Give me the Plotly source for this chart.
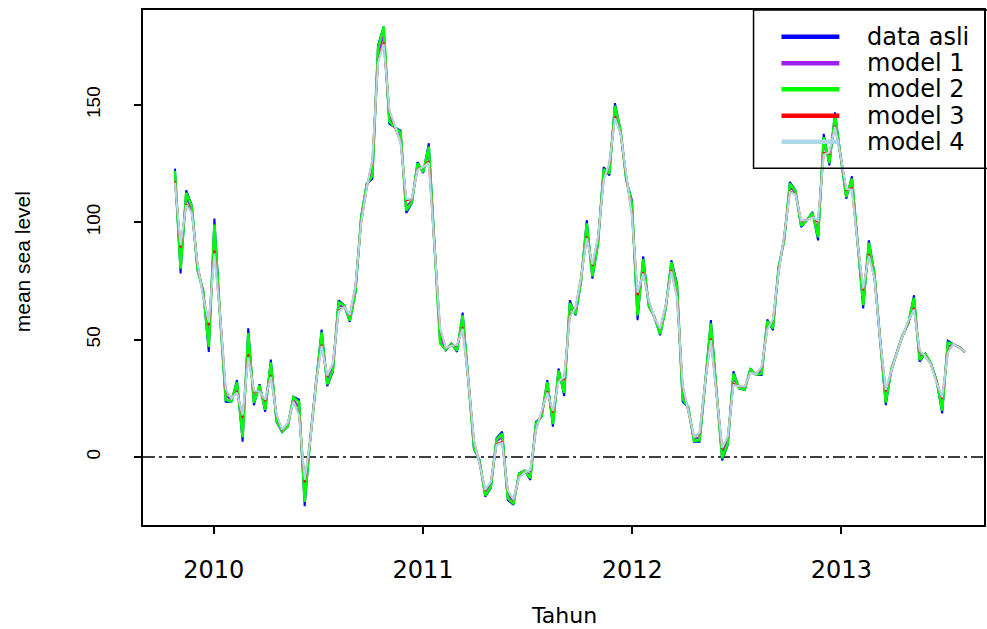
import plotly.graph_objects as go

# ---- data ----
start_year = 2009.814
step_year = 0.026971

data_asli = [
    122.9, 78.2, 113.6, 107.2, 79.6, 71.1, 44.8, 101.6, 60, 23.5,
    23.5, 32.8, 6.5, 54.8, 22.1, 31, 19.3, 41.5, 15.0, 10.6,
    12.9, 25.7, 24.5, -21, 8, 32, 54.3, 30.2, 36.3, 66.8,
    64.7, 57.6, 70, 102.3, 116.5, 118.6, 175.3, 183.4, 142.0, 140.5,
    139.1, 104.0, 108.2, 125.7, 121.0, 133.7, 91, 49, 45.5, 48.4,
    44.8, 61.5, 33, 3.3, -1.3, -16.9, -13.3, 8.0, 10.8, -18.3,
    -20.4, -6.9, -5.8, -9.8, 15.0, 17.1, 32.8, 12.9, 37.7, 26,
    66.8, 60.4, 75, 100.9, 76.0, 90.9, 123.5, 120.0, 150.8, 139.1,
    117.9, 109.4, 58.3, 85.5, 64.0, 59.7, 51.9, 63.3, 83.8, 73.9,
    23.5, 21.4, 6.5, 6.5, 32, 58.3, 28, -1.5, 5.1, 36.5,
    29.2, 28.5, 37.7, 34.9, 34.9, 58.6, 54.0, 81.0, 92.3, 117.2,
    113.6, 98.0, 100.9, 104.4, 92.3, 137.7, 124.3, 146.9, 128, 110.1,
    119.6, 91, 63.3, 92.3, 78.2, 50, 22.1, 37.7, 45, 51.9,
    56.9, 68.9, 40.6, 44.1, 40, 32.8, 18.6, 49.5, 48, 46.9,
    44.8]

model_1 = [
    119.9, 84.2, 110.5, 105.6, 81.0, 69.8, 51.0, 94.2, 60.4, 26.2,
    24.2, 30.1, 12.1, 48.7, 25.2, 29.5, 21.8, 37.8, 16.7, 11.1,
    13.7, 24.6, 21.2, -15.4, 7.6, 31.9, 50.8, 32.5, 38.1, 64.4,
    64.3, 59.1, 71.5, 100.9, 115.6, 122.7, 171.7, 179.7, 145.0, 140.5,
    136.6, 106.9, 109.2, 124.0, 122.3, 129.5, 91.1, 51.9, 46.0, 47.9,
    46.3, 58.1, 32.9, 5.2, -2.1, -15.5, -12.0, 6.6, 8.4, -16.3,
    -19.2, -7.8, -6.2, -7.6, 13.3, 18.1, 30.1, 16.3, 35.0, 29.9,
    63.3, 62.0, 75.8, 97.1, 79.0, 92.2, 120.8, 122.6, 147.6, 138.4,
    118.9, 106.2, 64.2, 81.8, 65.3, 59.4, 53.3, 64.0, 81.5, 70.9,
    27.1, 20.4, 7.6, 8.4, 32.1, 54.1, 28.1, 1.2, 7.0, 33.6,
    29.7, 29.2, 36.8, 35.1, 36.7, 56.5, 56.4, 79.8, 93.3, 115.1,
    112.7, 99.4, 100.9, 103.2, 96.6, 133.3, 127.0, 143.8, 128.1, 112.2,
    116.7, 91.1, 67.6, 89.1, 77.1, 50.0, 25.4, 37.1, 45.0, 51.8,
    57.4, 65.9, 43.0, 43.5, 39.8, 32.3, 22.0, 47.1, 48.0, 46.8,
    44.8]

model_2 = [
    121.9, 80.2, 112.6, 106.7, 80.1, 70.7, 46.9, 99.1, 60.1, 24.4,
    23.7, 31.9, 8.4, 52.8, 23.1, 30.5, 20.1, 40.3, 15.6, 10.8,
    13.2, 25.4, 23.4, -19.1, 7.9, 32.0, 53.1, 31.0, 36.9, 66.0,
    64.6, 58.1, 70.5, 101.8, 116.2, 120.0, 174.1, 183.4, 143.0, 140.5,
    138.3, 105.0, 108.5, 125.1, 121.4, 132.3, 91.0, 48.5, 45.7, 48.2,
    45.3, 60.4, 33.0, 3.9, -1.6, -16.4, -12.9, 7.5, 10.0, -17.6,
    -20.0, -7.2, -5.9, -9.1, 14.4, 17.4, 31.9, 14.0, 36.8, 27.3,
    65.6, 60.9, 75.3, 99.6, 77.0, 91.3, 122.6, 120.9, 149.7, 138.9,
    118.2, 108.3, 60.3, 84.3, 64.4, 59.6, 52.4, 63.5, 83.0, 72.9,
    24.7, 21.1, 6.9, 7.1, 32.0, 56.9, 28.0, -0.6, 5.7, 35.5,
    29.4, 28.7, 37.4, 35.0, 35.5, 57.9, 54.8, 80.6, 92.6, 116.5,
    113.3, 98.5, 100.9, 104.0, 93.7, 136.2, 125.2, 145.9, 128.0, 110.8,
    118.6, 91.0, 64.7, 91.2, 77.8, 50.0, 23.2, 37.5, 45.0, 51.9,
    57.1, 67.9, 41.4, 43.9, 39.9, 32.6, 19.7, 48.7, 48.0, 46.9,
    44.8]

model_3 = [
    117.4, 89.2, 107.8, 104.2, 82.2, 68.6, 56.2, 88.0, 60.7, 28.5,
    24.8, 27.9, 16.8, 43.6, 27.8, 28.1, 24.0, 34.8, 18.0, 11.5,
    14.4, 23.8, 18.4, -10.8, 7.3, 31.8, 47.9, 34.4, 39.7, 62.3,
    64.0, 60.2, 72.8, 99.8, 114.8, 126.1, 168.6, 176.6, 147.5, 140.5,
    134.4, 109.4, 110.0, 122.6, 123.4, 126.1, 91.1, 54.3, 46.4, 47.5,
    47.6, 55.2, 32.8, 6.8, -2.8, -14.2, -10.8, 5.4, 6.4, -14.6,
    -18.2, -8.6, -6.5, -5.8, 11.9, 19.0, 27.9, 19.0, 32.6, 33.2,
    60.3, 63.3, 76.6, 93.9, 81.5, 93.4, 118.6, 124.7, 145.0, 137.8,
    119.6, 103.6, 69.0, 78.8, 66.4, 59.2, 54.6, 64.6, 79.6, 68.3,
    30.1, 19.6, 8.6, 10.0, 32.1, 50.5, 28.1, 3.4, 8.5, 31.2,
    30.1, 29.8, 36.0, 35.3, 38.2, 54.8, 58.4, 78.8, 94.2, 113.2,
    112.0, 100.6, 101.0, 102.2, 100.2, 129.6, 129.2, 141.2, 128.2, 113.8,
    114.4, 91.1, 71.1, 86.4, 76.2, 50.0, 28.0, 36.6, 45.0, 51.6,
    57.9, 63.4, 45.0, 43.0, 39.6, 31.8, 24.8, 45.0, 48.0, 46.8,
    44.8]

model_4 = [
    116.9, 90.2, 107.3, 104.0, 82.5, 68.4, 57.3, 86.8, 60.8, 29.0,
    24.9, 27.5, 17.7, 42.6, 28.3, 27.9, 24.4, 34.2, 18.3, 11.6,
    14.5, 23.6, 17.9, -9.8, 7.2, 31.7, 47.3, 34.7, 40.0, 61.9,
    63.9, 60.5, 73.0, 99.6, 114.7, 126.8, 168.0, 176.0, 148.0, 140.5,
    134.0, 109.9, 110.2, 122.4, 123.6, 125.4, 91.1, 54.8, 46.5, 47.4,
    47.8, 54.7, 32.8, 7.1, -3.0, -14.0, -10.6, 5.2, 6.0, -14.2,
    -18.1, -8.8, -6.6, -5.5, 11.6, 19.1, 27.5, 19.6, 32.2, 33.9,
    59.7, 63.6, 76.7, 93.3, 82.0, 93.6, 118.1, 125.1, 144.4, 137.7,
    119.8, 103.0, 70.0, 78.2, 66.6, 59.2, 54.8, 64.7, 79.2, 67.8,
    30.7, 19.5, 8.7, 10.3, 32.1, 49.8, 28.1, 3.9, 8.8, 30.7,
    30.2, 30.0, 35.9, 35.3, 38.5, 54.4, 58.7, 78.6, 94.3, 112.9,
    111.8, 100.8, 101.0, 102.1, 100.9, 128.9, 129.7, 140.7, 128.2, 114.2,
    113.9, 91.1, 71.8, 85.8, 76.1, 50.0, 28.6, 36.5, 44.9, 51.6,
    58.0, 62.9, 45.4, 43.0, 39.5, 31.7, 25.4, 44.6, 48.1, 46.7,
    44.8]

series_names = ["data asli", "model 1", "model 2", "model 3", "model 4"]
series_colors = ["#0000FF", "#A020F0", "#00FF00", "#FF0000", "#ADD8E6"]
series_widths = [2, 2, 2.5, 2, 2.2]
x_ticks = [2010, 2011, 2012, 2013]
y_ticks = [0, 50, 100, 150]

tahun = [start_year + i * step_year for i in range(len(data_asli))]

# ---- layout geometry (pixels) ----
W, H = 987, 629
L, R, T, B = 143, 986, 10, 525
pw, ph = R - L, B - T


def px_x(px):
    return (px - L) / pw


def px_y(py):
    return 1 - (py - T) / ph


fig = go.Figure()
for name, vals, col, lw in zip(series_names,
                               [data_asli, model_1, model_2, model_3, model_4],
                               series_colors, series_widths):
    fig.add_trace(go.Scatter(x=tahun, y=vals, mode="lines", name=name,
                             line=dict(color=col, width=lw),
                             showlegend=False, hoverinfo="skip"))

shapes = []
# zero reference line (dot-dash)
shapes.append(dict(type="line", xref="paper", yref="y", x0=0, x1=1, y0=0, y1=0,
                   line=dict(color="black", width=1.5, dash="12px,4px,3px,4px"),
                   layer="below"))

# legend box
shapes.append(dict(type="rect", xref="paper", yref="paper",
                   x0=px_x(755), x1=px_x(1000), y0=px_y(168.3), y1=px_y(10),
                   line=dict(color="black", width=1.5), layer="above"))

annotations = []
row_y = [36.7, 63.3, 89.3, 115.7, 141.7]
for name, col, ry in zip(series_names, series_colors, row_y):
    shapes.append(dict(type="line", xref="paper", yref="paper",
                       x0=px_x(783), x1=px_x(841), y0=px_y(ry), y1=px_y(ry),
                       line=dict(color=col, width=4.5), layer="above"))
    annotations.append(dict(text=name, xref="paper", yref="paper",
                            x=px_x(867), y=px_y(ry), xanchor="left", yanchor="middle",
                            showarrow=False,
                            font=dict(family="DejaVu Sans", size=24, color="black")))

annotations.append(dict(text="Tahun", xref="paper", yref="paper",
                        x=px_x(565), y=px_y(615), xanchor="center", yanchor="middle",
                        showarrow=False,
                        font=dict(family="DejaVu Sans", size=22, color="black")))
annotations.append(dict(text="mean sea level", xref="paper", yref="paper",
                        x=px_x(22), y=px_y(262), xanchor="center", yanchor="middle",
                        textangle=-90, showarrow=False,
                        font=dict(family="Liberation Sans", size=21, color="black")))

x_lo = 2010 + (L - 214) / 209.67
x_hi = 2010 + (R - 214) / 209.67
y_scale = 352 / 150.0
y_lo = -(B - 457) / y_scale
y_hi = (457 - T) / y_scale

fig.update_layout(
    width=W, height=H,
    margin=dict(l=L, r=W - R, t=T, b=H - B),
    paper_bgcolor="white", plot_bgcolor="white",
    shapes=shapes, annotations=annotations,
    hovermode=False,
    xaxis=dict(range=[x_lo, x_hi], tickvals=x_ticks,
               ticktext=[str(v) for v in x_ticks],
               showgrid=False, zeroline=False,
               showline=True, mirror=True, linecolor="black", linewidth=1.5,
               ticks="outside", ticklen=7, tickwidth=1.5, tickcolor="black",
               ticklabelstandoff=15,
               tickfont=dict(family="DejaVu Sans", size=24, color="black")),
    yaxis=dict(range=[y_lo, y_hi], tickvals=y_ticks,
               ticktext=[str(v) for v in y_ticks],
               showgrid=False, zeroline=False,
               showline=True, mirror=True, linecolor="black", linewidth=1.5,
               ticks="outside", ticklen=7, tickwidth=1.5, tickcolor="black",
               tickangle=-90, ticklabelstandoff=27,
               tickfont=dict(family="Liberation Sans", size=19, color="black")),
)

fig.write_html("out.html",
               config={"displayModeBar": False},
               post_script="document.body.style.margin='0px';"
                           "document.body.style.overflow='hidden';")
